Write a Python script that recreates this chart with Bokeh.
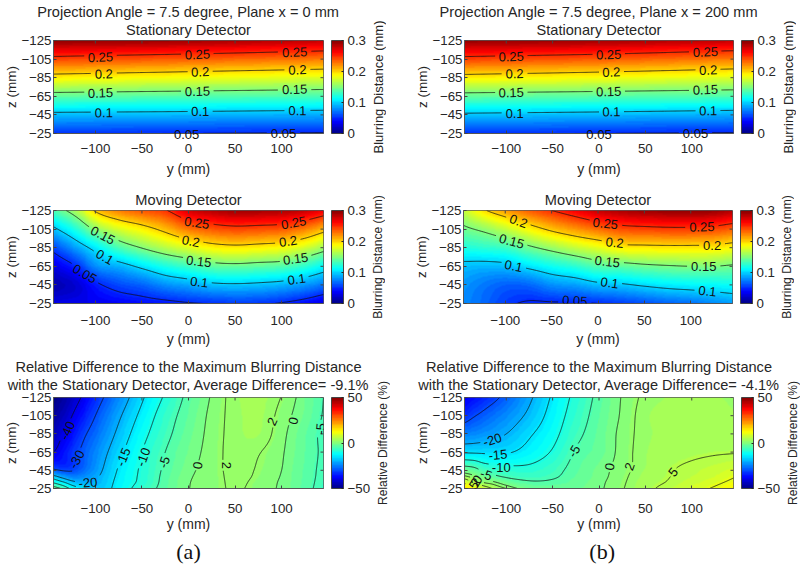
import numpy as np
from bokeh.plotting import figure
from bokeh.plotting.contour import contour_data
from bokeh.layouts import column, row
from bokeh.models import ColorBar, FixedTicker, Label, LinearColorMapper, Range1d, Title
from bokeh.embed import file_html
from bokeh.resources import INLINE

# ---- data ----
Y_TICKS = [-100, -50, 0, 50, 100]
Z_TICKS = [-125, -105, -85, -65, -45, -25]

y_stat = [-145, 0, 145]
z_coarse = [-125, -105, -85, -65, -45, -25]
y_mov = [-145, -120, -100, -75, -50, -25, 0, 25, 50, 75, 100, 125, 145]
y_diff = [-145, -135, -125, -115, -100, -75, -50, -25, 0, 25, 50, 75, 100, 125, 145]
z_diff = [-125, -105, -85, -65, -45, -38, -32, -25]

stat_a = [
    [.296, .291, .280],
    [.2425, .235, .227],
    [.190, .184, .178],
    [.140, .137, .134],
    [.094, .092, .089],
    [.053, .050, .048],
]
stat_b = [
    [.295, .290, .280],
    [.243, .236, .226],
    [.191, .185, .178],
    [.141, .138, .135],
    [.096, .093, .089],
    [.053, .050, .048],
]
mov_a = [
    [.135, .165, .203, .225, .237, .248, .275, .285, .291, .290, .287, .280, .267],
    [.095, .124, .154, .176, .190, .207, .227, .237, .242, .240, .237, .225, .209],
    [.058, .086, .108, .134, .151, .166, .178, .189, .193, .190, .186, .175, .160],
    [.030, .051, .079, .090, .105, .120, .130, .140, .143, .140, .137, .126, .113],
    [.015, .025, .045, .059, .067, .080, .087, .095, .097, .095, .091, .083, .073],
    [.030, .032, .033, .036, .040, .043, .048, .051, .054, .053, .048, .039, .028],
]
mov_b = [
    [.170, .200, .216, .235, .250, .265, .280, .288, .293, .295, .296, .294, .286],
    [.145, .157, .170, .188, .205, .218, .230, .240, .243, .245, .245, .242, .235],
    [.121, .126, .130, .145, .158, .170, .180, .191, .193, .194, .194, .193, .188],
    [.094, .092, .094, .105, .116, .125, .137, .140, .145, .148, .150, .150, .147],
    [.082, .072, .066, .068, .080, .085, .094, .097, .103, .108, .111, .113, .115],
    [.078, .066, .055, .047, .047, .048, .050, .055, .060, .066, .070, .078, .083],
]
diff_a = [
    [-49.5, -47, -43.5, -39.8, -33.5, -24, -15.7, -9.3, -3.8, .3, 2.8, 3.6, 1.9, -1.4, -5],
    [-47, -44, -40, -36, -30, -21, -13.6, -7.5, -2.9, .7, 2.7, 3.4, 1.2, -1.9, -5.3],
    [-44, -40, -36.5, -32, -27, -18.7, -11.7, -6.3, -2.2, .9, 2.7, 3.2, .7, -2.8, -6],
    [-40, -36.5, -32.5, -29.2, -24.3, -16.5, -10, -5, -1.4, 1, 2.7, 2.15, .3, -3, -5.8],
    [-28.5, -30.5, -30.5, -27.5, -22.5, -14.5, -9.2, -4.2, -.7, 1.1, 2.6, 1.75, 0, -3.4, -6],
    [-18, -22, -25, -24, -21, -14, -9, -3.9, -.4, 1.1, 2.5, 1.6, -.2, -3.5, -6.1],
    [-11, -14.5, -18.5, -20.5, -20, -13.5, -8.8, -3.7, -.2, 1.1, 2.4, 1.35, -.4, -3.6, -6.3],
    [-2, -6, -11.5, -14.5, -18, -13, -7.7, -3.5, -.1, 1.1, 2.3, 1.1, -.5, -3.8, -6.5],
]
diff_b = [
    [-38.5, -36.5, -34.2, -32, -28, -21, -14.3, -8.6, -3.8, .2, 2.5, 3.2, 3.6, 3.3, 2.8],
    [-33, -30.5, -28.5, -26.5, -23.8, -18.7, -13, -7.6, -3.2, .4, 2.9, 3.5, 4, 3.9, 3.3],
    [-24.8, -24, -23, -22, -20, -15.7, -11.5, -6.3, -2.7, .8, 2.8, 3.6, 4.2, 4.3, 4],
    [-15.5, -15.6, -15.7, -15.8, -15.5, -13, -9.5, -4.6, -2.3, .9, 3, 3.9, 4.4, 4.7, 4.8],
    [-1.8, -3, -5.5, -7, -8, -8.4, -6.5, -3.4, -1.1, 1.2, 3.2, 4.7, 5.8, 7, 8.3],
    [2.8, .9, -1.1, -3.5, -5.5, -6.7, -5.6, -3, -.9, 1.4, 3.6, 4.9, 6.2, 7.8, 9.7],
    [8.7, 4.6, 1.8, .6, -2, -4.4, -4.2, -2.5, -.6, 1.6, 3.9, 5.2, 7, 9, 11],
    [16, 11.5, 7.8, 4.9, 2, -1.5, -2, -1.8, -.4, 1.8, 4.2, 6, 8.2, 10.6, 13],
]

levels_blur = [.05, .1, .15, .2, .25]
levels_diff = [-40, -30, -20, -15, -10, -5, 0, 2, 5, 10]

labels_stat_a = [
    (-94.6, -107, "0.25", 2), (9.7, -109.9, "0.25", 2), (114, -112.4, "0.25", 2),
    (-91, -89, "0.2", 2), (12.6, -91.2, "0.2", 2), (117, -93.4, "0.2", 2),
    (-94.6, -68.5, "0.15", 2), (9.7, -70.3, "0.15", 2), (114, -72.5, "0.15", 2),
    (-91, -47.3, "0.1", 1), (12.6, -48.7, "0.1", 1), (117, -49.5, "0.1", 1),
    (-2, -24.3, "0.05", 0), (102, -25, "0.05", 0),
]
labels_stat_b = [
    (-94.6, -107.7, "0.25", 2), (10.4, -109.8, "0.25", 2), (114.7, -112.7, "0.25", 2),
    (-91, -89.3, "0.2", 2), (13.3, -91, "0.2", 2), (117.7, -93.2, "0.2", 2),
    (-94.6, -69, "0.15", 2), (10.4, -70, "0.15", 2), (114.7, -72, "0.15", 2),
    (-91, -46.5, "0.1", 1), (13.3, -48.3, "0.1", 1), (117.7, -49.4, "0.1", 1),
    (0, -24.3, "0.05", 0), (104, -25, "0.05", 0),
]
labels_mov_a = [
    (9, -111.7, "0.25", -8), (113, -111.7, "0.25", 10),
    (2.5, -92, "0.2", -10), (107, -92, "0.2", 8),
    (-92, -98.4, "0.15", -27), (11, -70.3, "0.15", -6), (115, -73, "0.15", 8),
    (-90, -75, "0.1", -30), (11.5, -48, "0.1", -7), (116, -51, "0.1", 8),
    (-111.5, -57, "0.05", -30),
]
labels_mov_b = [
    (8, -111, "0.25", -6), (112, -107.4, "0.25", 2),
    (-85.6, -113.5, "0.2", -20), (18, -90.5, "0.2", -6), (123, -87.6, "0.2", 0),
    (-93, -92, "0.15", -15), (10, -70, "0.15", -6), (114, -65, "0.15", 0),
    (-91, -65.3, "0.1", -12), (12.6, -47.3, "0.1", -8), (118, -38.3, "0.1", -6),
    (-25, -28, "0.05", -3),
]
labels_diff_a = [
    (-130, -88.6, "-40", 65), (-120, -57, "-30", 62), (-108, -31.5, "-20", 5),
    (-70, -59.5, "-15", 68), (-48.5, -59.5, "-10", 70), (-26, -54, "-5", 72),
    (10, -50.5, "0", 80), (40.6, -50.5, "2", -90), (90, -98.5, "2", 65),
    (112.6, -99.5, "0", 78), (142, -90.5, "-5", 85),
]
labels_diff_b = [
    (-115, -78.5, "-20", 18), (-109, -62, "-15", 5), (-105.4, -48, "-10", 0),
    (-121.6, -40.3, "-5", -18), (-131, -35, "0", 55), (-133, -32, "2", 55), (-135, -29, "5", 55),
    (-27, -66, "-5", 60), (11.5, -49, "0", 80), (33, -49, "2", 70), (80, -43, "5", 50),
]

# ---- styling ----
FONT = "Liberation Sans"
DARK = "#262626"


def jet(t):
    r = np.clip(np.minimum(4 * t - 1.5, -4 * t + 4.5), 0, 1)
    g = np.clip(np.minimum(4 * t - 0.5, -4 * t + 3.5), 0, 1)
    b = np.clip(np.minimum(4 * t + 0.5, -4 * t + 2.5), 0, 1)
    return "#%02x%02x%02x" % (int(r * 255), int(g * 255), int(b * 255))


PALETTE = [jet((i + .5) / 64) for i in range(64)]
FINE_Y = np.arange(-145, 145.5, 1.0)
FINE_Z = np.arange(-125, -24.9, 0.5)


def hermite(xs, vals, q):
    """Smooth resampling of a table along its first axis for drawing."""
    xs = np.asarray(xs, float)
    m = np.gradient(vals, xs, axis=0)
    i = np.clip(np.searchsorted(xs, q, side="right") - 1, 0, len(xs) - 2)
    h = xs[i + 1] - xs[i]
    t = (q - xs[i]) / h
    sh = (-1,) + (1,) * (vals.ndim - 1)
    t = t.reshape(sh)
    h = h.reshape(sh)
    return ((2 * t**3 - 3 * t**2 + 1) * vals[i] + (t**3 - 2 * t**2 + t) * h * m[i]
            + (-2 * t**3 + 3 * t**2) * vals[i + 1] + (t**3 - t**2) * h * m[i + 1])


def resample(ys, zs, grid):
    v = np.array(grid, dtype=float)
    v = hermite(zs, v, FINE_Z)
    return hermite(ys, v.T, FINE_Y).T


def broken_lines(field, levels, labels, sx, sy):
    data = contour_data(FINE_Y, FINE_Z, field, levels, want_fill=False, want_line=True).line_data
    out_x, out_y = [], []
    for lx, ly in zip(data.xs, data.ys):
        fx, fy = np.asarray(lx, float), np.asarray(ly, float)
        if fx.size < 2:
            continue
        for (ly0, lz0, txt, ang) in labels:
            dx = (fx - ly0) * sx
            dy = -(fy - lz0) * sy
            a = np.radians(ang)
            u = dx * np.cos(a) + dy * np.sin(a)
            v = -dx * np.sin(a) + dy * np.cos(a)
            inside = (np.abs(u) < len(txt) * 3.6 + 1.5) & (np.abs(v) < 7)
            fx = np.where(inside, np.nan, fx)
            fy = np.where(inside, np.nan, fy)
        out_x.append(fx)
        out_y.append(fy)
    return out_x, out_y


def panel(ys, zs, grid, levels, labels, vmin, vmax, cticks, titles, left, right, top, bottom,
          frame_w=270, frame_h=93, x_std=12, gap_font="1px", ylab_std=3, ylab_page=None):
    p = figure(frame_width=frame_w, frame_height=frame_h, output_backend="svg", toolbar_location=None,
               x_range=Range1d(-145, 145), y_range=Range1d(-25, -125),
               min_border_left=left, min_border_right=right,
               min_border_top=top, min_border_bottom=bottom,
               background_fill_color="white", border_fill_color=None, outline_line_color="#555555")
    p.grid.visible = False

    cm = LinearColorMapper(palette=PALETTE, low=vmin, high=vmax)
    field = resample(ys, zs, grid)
    p.image(image=[np.clip(field, vmin, vmax)], x=-145, y=-125, dw=290, dh=100, color_mapper=cm)

    sx, sy = frame_w / 290, frame_h / 100
    lx, ly = broken_lines(field, levels, labels, sx, sy)
    p.multi_line(lx, ly, line_color="#111111", line_width=0.9, line_alpha=0.85)

    # short inward tick marks on the top and right edges of the box
    p.segment(x0=Y_TICKS, x1=Y_TICKS, y0=[-125] * 5, y1=[-125 + 3 / sy] * 5, line_color="#444444", line_width=1)
    p.segment(x0=[145] * 6, x1=[145 - 3 / sx] * 6, y0=Z_TICKS, y1=Z_TICKS, line_color="#444444", line_width=1)

    for ax, ticks, lab in ((p.xaxis[0], Y_TICKS, "y (mm)"), (p.yaxis[0], Z_TICKS, "z (mm)")):
        ax.ticker = FixedTicker(ticks=ticks)
        ax.axis_label = lab
        ax.axis_label_text_font = FONT
        ax.axis_label_text_font_style = "normal"
        ax.axis_label_text_font_size = "13.5px"
        ax.axis_label_text_color = DARK
        ax.major_label_text_font = FONT
        ax.major_label_text_font_size = "13.3px"
        ax.major_label_text_color = DARK
        ax.major_tick_in = 3
        ax.major_tick_out = 0
        ax.minor_tick_line_color = None
        ax.axis_line_color = "#555555"
        ax.major_tick_line_color = "#444444"
    p.yaxis[0].major_label_standoff = 2
    p.yaxis[0].axis_label_standoff = 0
    p.xaxis[0].major_label_standoff = x_std
    p.xaxis[0].axis_label_standoff = ylab_std
    p.xaxis[0].axis_label_text_font_size = "14px"

    cb = ColorBar(color_mapper=cm, ticker=FixedTicker(ticks=cticks), width=12, height=frame_h,
                  margin=0, padding=0, location=(8, 0),
                  major_label_text_font=FONT, major_label_text_font_size="13.3px",
                  major_label_text_color=DARK, label_standoff=4,
                  major_tick_line_color=DARK, major_tick_in=2, minor_tick_line_color=None,
                  bar_line_color="#444444", bar_line_width=1)
    p.add_layout(cb, "right")

    if ylab_page is not None:
        # the lower margin of the first row also has to hold the text that hangs over the box
        p.xaxis[0].axis_label = None
        p.add_layout(Label(x=left + frame_w / 2, y=ylab_page, x_units="canvas", y_units="canvas",
                           text="y (mm)", text_font=FONT, text_font_size="14px", text_color=DARK,
                           text_align="center", text_baseline="middle"), "below")

    for (ly0, lz0, txt, ang) in labels:
        lab = Label(x=ly0, y=lz0, text=txt, angle=ang, angle_units="deg",
                    text_font=FONT, text_font_size="13px", text_color="#111111",
                    text_align="center", text_baseline="middle")
        if lz0 > -27:
            lab.x_units, lab.y_units = "canvas", "canvas"
            lab.x = left + (ly0 + 145) * sx
            lab.y = top + (lz0 + 125) * sy
            p.add_layout(lab, "below")
        else:
            p.add_layout(lab)
    # a blank line in a tiny size keeps the titles off the box
    p.add_layout(Title(text=" ", text_font=FONT, text_font_size=gap_font, standoff=0), "above")
    for t in reversed(titles):
        p.add_layout(Title(text=t[0], align="center", offset=t[1], text_font=FONT, text_font_style="normal",
                           text_font_size="14.6px", text_color=DARK, standoff=0), "above")
    return p


def strip(text_, top, bottom, frame_h, size):
    """Narrow column holding the rotated colour-bar caption."""
    s = figure(frame_width=1, frame_height=frame_h, output_backend="svg", toolbar_location=None,
               x_range=Range1d(0, 1), y_range=Range1d(0, 1),
               min_border_top=top, min_border_bottom=bottom, min_border_left=14, min_border_right=0,
               x_axis_location=None, y_axis_location=None, outline_line_color=None,
               background_fill_color=None, border_fill_color=None)
    s.grid.visible = False
    s.add_layout(Title(text=text_, align="center", text_font=FONT, text_font_style="normal",
                       text_font_size=size, text_color=DARK, standoff=0), "left")
    return s


BL = "Blurring Distance (mm)"
RD = "Relative Difference (%)"
T1 = "Relative Difference to the Maximum Blurring Distance"
CB = [0, .1, .2, .3]

p1 = panel(y_stat, z_coarse, stat_a, levels_blur, labels_stat_a, 0, .3, CB,
           [("Projection Angle = 7.5 degree, Plane x = 0 mm", 0), ("Stationary Detector", 0)],
           53, 44, 40, 56, x_std=10, ylab_page=168)
p2 = panel(y_stat, z_coarse, stat_b, levels_blur, labels_stat_b, 0, .3, CB,
           [("Projection Angle = 7.5 degree, Plane x = 200 mm", 0), ("Stationary Detector", 0)],
           78, 44, 40, 56, frame_w=269, x_std=10, ylab_page=168)
p3 = panel(y_mov, z_coarse, mov_a, levels_blur, labels_mov_a, 0, .3, CB,
           [("Moving Detector", 0)], 53, 44, 21, 47)
p4 = panel(y_mov, z_coarse, mov_b, levels_blur, labels_mov_b, 0, .3, CB,
           [("Moving Detector", 0)], 78, 44, 21, 47, frame_w=269)
p5 = panel(y_diff, z_diff, diff_a, levels_diff, labels_diff_a, -50, 50, [-50, 0, 50],
           [(T1, 0), ("with the Stationary Detector, Average Difference= -9.1%", 2)],
           53, 44, 47, 42, frame_h=91, x_std=15, gap_font="3px", ylab_std=0)
p6 = panel(y_diff, z_diff, diff_b, levels_diff, labels_diff_b, -50, 50, [-50, 0, 50],
           [(T1, 0), ("with the Stationary Detector, Average Difference= -4.1%", 2)],
           74, 44, 47, 42, frame_w=269, frame_h=91, x_std=15, gap_font="3px", ylab_std=0)

footer = figure(frame_width=796, frame_height=30, output_backend="svg", toolbar_location=None,
                x_range=Range1d(0, 796), y_range=Range1d(30, 0), min_border=0,
                x_axis_location=None, y_axis_location=None, outline_line_color=None,
                background_fill_color=None, border_fill_color=None)
footer.grid.visible = False
for lx_, s_ in ((188, "(a)"), (601.7, "(b)")):
    footer.add_layout(Label(x=lx_, y=17, text=s_, text_font="Liberation Serif", text_font_size="22px",
                            text_color="#111111", text_align="center", text_baseline="middle"))

layout = column(
    row(p1, strip(BL, 40, 55, 93, "13px"), p2, strip(BL, 40, 55, 93, "13px"), spacing=0),
    row(p3, strip(BL, 21, 47, 93, "12.1px"), p4, strip(BL, 21, 47, 93, "12.1px"), spacing=0),
    row(p5, strip(RD, 47, 42, 91, "12.1px"), p6, strip(RD, 47, 42, 91, "12.1px"), spacing=0),
    footer, spacing=0)
open("out.html", "w").write(file_html(layout, INLINE))
